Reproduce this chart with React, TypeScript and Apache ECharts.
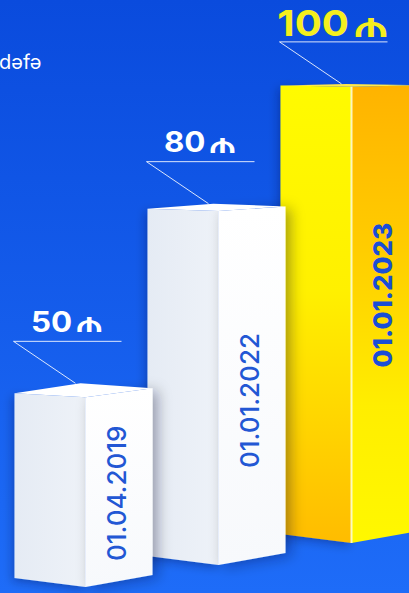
import React, { useEffect, useRef } from 'react';
import * as echarts from 'echarts';

// ---- data ----
const categories: string[] = ['01.04.2019', '01.01.2022', '01.01.2023'];
const values: number[] = [50, 80, 100];
const currency = '₼';
const caption = 'dəfə';

// ---- layout / style constants ----
const Y_MIN = 20;
const Y_MAX = 110;
const WL = 71; // left face width
const WR = 67; // right face width
const BASE_OFFSET = 24; // front bar base below axis min
const DEPTH_STEP = 22; // perspective shift of base per bar
const DATE_POS = [0.54, 0.545, 0.46];
const FONT = 'Inter, "Noto Sans", "DejaVu Sans", sans-serif';
const DIGIT_SCALE = 1.12;

let measureCtx: CanvasRenderingContext2D | null = null;
function textWidth(text: string, font: string): number {
  if (!measureCtx) measureCtx = document.createElement('canvas').getContext('2d');
  if (!measureCtx) return text.length * 10;
  measureCtx.font = font;
  return measureCtx.measureText(text).width;
}

function renderItem(params: any, api: any) {
  const i = params.dataIndex;
  const v = api.value(1);
  const top = api.coord([i, v]);
  const cx = top[0];
  const ty = top[1];
  const base = api.coord([i, Y_MIN])[1] + BASE_OFFSET - DEPTH_STEP * i;
  const dip = Math.max(0, Math.min(1, (ty - 60) / 320));
  const Lt = [cx - WL, ty + 9 * dip + 1];
  const Rt = [cx + WR, ty + 4 * dip + 1];
  const Ft = [cx, ty + 12 * dip + 2];
  const Bt = [cx - 5, ty];
  const Lb = [cx - WL, base - 9];
  const Fb = [cx, base];
  const Rb = [cx + WR, base - 12];
  const hi = i === values.length - 1;
  const zb = (values.length - i) * 20;

  const leftFill = hi
    ? new echarts.graphic.LinearGradient(0, 0, 0, 1, [
        { offset: 0, color: '#FFFB00' },
        { offset: 0.45, color: '#FFF000' },
        { offset: 1, color: '#FFBC00' },
      ])
    : new echarts.graphic.LinearGradient(0, 0, 1, 0, [
        { offset: 0, color: '#E5EBF4' },
        { offset: 1, color: '#EEF2F8' },
      ]);
  const rightFill = hi
    ? new echarts.graphic.LinearGradient(0, 0, 0, 1, [
        { offset: 0, color: '#FFB300' },
        { offset: 0.35, color: '#FFCC00' },
        { offset: 0.7, color: '#FFEE00' },
        { offset: 1, color: '#FFF800' },
      ])
    : new echarts.graphic.LinearGradient(0, 0, 0, 1, [
        { offset: 0, color: '#FFFFFF' },
        { offset: 1, color: '#F7F9FC' },
      ]);
  const topFill = hi ? '#FFE94A' : '#FFFFFF';

  const fs = hi ? 36 : 28;
  const valColor = hi ? '#F5EF1E' : '#FFFFFF';
  const digits = String(v);
  const dFont = `700 ${fs}px ${FONT}`;
  const dW = textWidth(digits, dFont) * DIGIT_SCALE;
  const mFs = Math.round(fs * 0.95);
  const mFont = `500 ${mFs}px ${FONT}`;
  const mNat = textWidth(currency, mFont) || fs * 0.6;
  const mTarget = fs * 1.05;
  const mScale = mTarget / mNat;
  const gap = fs * 0.08;
  const total = dW + gap + mTarget;
  const labelCx = cx - 18;
  const startX = labelCx - total / 2;
  const lineY = ty - 42;
  const capH = fs * 0.727;
  const digitsCy = Math.max(ty - 52 - capH / 2, fs * 0.63);
  const lh = Math.round(fs * 0.8);

  const shadow = hi
    ? {}
    : { shadowBlur: 14, shadowColor: 'rgba(0,0,40,0.35)', shadowOffsetX: 5, shadowOffsetY: 2 };

  const children: any[] = [
    {
      type: 'polygon',
      z2: zb,
      shape: { points: [Lt, Ft, Fb, Lb] },
      style: { fill: leftFill, shadowBlur: 10, shadowColor: 'rgba(0,0,40,0.3)', shadowOffsetX: -2, shadowOffsetY: 3 },
    },
    {
      type: 'polygon',
      z2: zb + 1,
      shape: { points: [Ft, Rt, Rb, Fb] },
      style: { fill: rightFill, ...shadow },
    },
    {
      type: 'polygon',
      z2: zb + 2,
      shape: { points: [Lt, Bt, Rt, Ft] },
      style: { fill: topFill },
    },
    {
      type: 'line',
      z2: zb + 3,
      shape: { x1: Ft[0], y1: Ft[1], x2: Fb[0], y2: Fb[1] },
      style: { stroke: hi ? 'rgba(255,255,210,0.9)' : 'rgba(255,255,255,0.6)', lineWidth: hi ? 2 : 1 },
    },
    {
      type: 'line',
      z2: zb + 4,
      shape: { x1: cx - 72, y1: lineY, x2: cx + 36, y2: lineY },
      style: { stroke: 'rgba(255,255,255,0.85)', lineWidth: 1 },
    },
    {
      type: 'line',
      z2: zb + 4,
      shape: { x1: cx - 72, y1: lineY, x2: cx - 10, y2: ty },
      style: { stroke: 'rgba(255,255,255,0.85)', lineWidth: 1 },
    },
    {
      type: 'text',
      z2: zb + 5,
      x: startX,
      y: digitsCy,
      scaleX: DIGIT_SCALE,
      style: { text: digits, font: dFont, lineHeight: lh, fill: valColor, align: 'left', verticalAlign: 'middle' },
    },
    {
      type: 'text',
      z2: zb + 5,
      x: startX + dW + gap,
      y: digitsCy + fs * 0.04,
      scaleX: mScale,
      style: { text: currency, font: mFont, lineHeight: lh, fill: valColor, align: 'left', verticalAlign: 'middle' },
    },
    {
      type: 'text',
      z2: zb + 6,
      x: cx + 31,
      y: ty + DATE_POS[i] * (base - ty),
      rotation: Math.PI / 2,
      style: {
        text: categories[i],
        font: hi ? `800 26px ${FONT}` : `500 26px ${FONT}`,
        fill: hi ? '#1A4ED6' : '#2257D4',
        align: 'center',
        verticalAlign: 'middle',
      },
    },
  ];
  return { type: 'group', children };
}

export default function App() {
  const ref = useRef<HTMLDivElement>(null);
  useEffect(() => {
    if (!ref.current) return;
    const chart = echarts.init(ref.current, undefined, { renderer: 'svg' });
    chart.setOption({
      animation: false,
      backgroundColor: {
        type: 'linear',
        x: 0,
        y: 0,
        x2: 0,
        y2: 1,
        colorStops: [
          { offset: 0, color: '#0A4BDD' },
          { offset: 1, color: '#1E6CF8' },
        ],
      },
      grid: { left: 19, right: -9, top: 24, bottom: 30, outerBoundsMode: 'none', containLabel: false },
      xAxis: { type: 'category', data: categories, show: false },
      yAxis: { type: 'value', min: Y_MIN, max: Y_MAX, show: false },
      graphic: [
        {
          type: 'text',
          left: -1,
          top: 52,
          style: { text: caption, fill: '#FFFFFF', font: `400 20px ${FONT}` },
        },
      ],
      series: [
        {
          type: 'custom',
          clip: false,
          renderItem,
          data: values.map((v, i) => [i, v]),
          encode: { x: 0, y: 1 },
        },
      ],
    });
    return () => chart.dispose();
  }, []);
  return (
    <div
      ref={ref}
      style={{ position: 'fixed', left: 0, top: 0, width: 409, height: 593 }}
    />
  );
}
